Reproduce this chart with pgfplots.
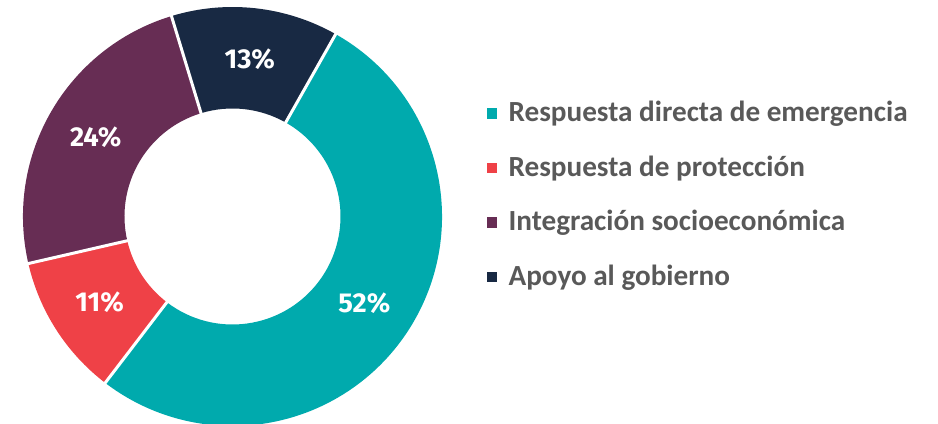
\documentclass[border=0pt]{standalone}
\usepackage{fontspec}
\setmainfont{Carlito}
\newfontfamily\pctfont{Fira Sans}
\usepackage{pgfplots}
\pgfplotsset{compat=1.18}
\usepackage{pgfplotstable}
\definecolor{cTeal}{RGB}{0,170,173}
\definecolor{cRed}{RGB}{239,65,71}
\definecolor{cPurple}{RGB}{103,45,84}
\definecolor{cNavy}{RGB}{24,41,67}
\definecolor{legtext}{RGB}{89,89,89}

\pgfplotstableread[col sep=comma]{
name,value,col
Respuesta directa de emergencia,52.2,cTeal
Respuesta de protección,11.0,cRed
Integración socioeconómica,23.9,cPurple
Apoyo al gobierno,12.9,cNavy
}\piedata

\def\cx{232.5}\def\cy{207.5}\def\Ro{209.5}\def\Ri{108}\def\Rl{158}

\def\cum{60.5}
\pgfplotsforeachungrouped \i in {0,1,2,3}{%
  \pgfplotstablegetelem{\i}{value}\of\piedata
  \let\v\pgfplotsretval
  \pgfmathsetmacro\b{\cum-3.6*\v}
  \pgfmathsetmacro\m{(\cum+\b)/2}
  \pgfmathtruncatemacro\p{round(\v)}
  \pgfmathsetmacro\xo{\cx+\Ro*cos(\cum)}
  \pgfmathsetmacro\yo{\cy+\Ro*sin(\cum)}
  \pgfmathsetmacro\xi{\cx+\Ri*cos(\b)}
  \pgfmathsetmacro\yi{\cy+\Ri*sin(\b)}
  \pgfmathsetmacro\lx{\cx+\Rl*cos(\m)}
  \pgfmathsetmacro\ly{\cy+\Rl*sin(\m)}
  \pgfmathsetmacro\sxa{\cx+100*cos(\cum)}
  \pgfmathsetmacro\sya{\cy+100*sin(\cum)}
  \pgfmathsetmacro\sxb{\cx+216*cos(\cum)}
  \pgfmathsetmacro\syb{\cy+216*sin(\cum)}
  \expandafter\xdef\csname sA\i\endcsname{\cum}
  \expandafter\xdef\csname sB\i\endcsname{\b}
  \expandafter\xdef\csname sP\i\endcsname{\p}
  \expandafter\xdef\csname xo\i\endcsname{\xo}
  \expandafter\xdef\csname yo\i\endcsname{\yo}
  \expandafter\xdef\csname xi\i\endcsname{\xi}
  \expandafter\xdef\csname yi\i\endcsname{\yi}
  \expandafter\xdef\csname lx\i\endcsname{\lx}
  \expandafter\xdef\csname ly\i\endcsname{\ly}
  \expandafter\xdef\csname sxa\i\endcsname{\sxa}
  \expandafter\xdef\csname sya\i\endcsname{\sya}
  \expandafter\xdef\csname sxb\i\endcsname{\sxb}
  \expandafter\xdef\csname syb\i\endcsname{\syb}
  \pgfplotstablegetelem{\i}{col}\of\piedata
  \colorlet{slice\i}{\pgfplotsretval}
  \pgfplotstablegetelem{\i}{name}\of\piedata
  \expandafter\xdef\csname sN\i\endcsname{\pgfplotsretval}
  \xdef\cum{\b}%
}

\begin{document}
\begin{tikzpicture}
\path[use as bounding box] (0,0) rectangle (703.5pt,318pt);
\begin{axis}[scale only axis, width=703.5pt, height=318pt,
  xmin=0, xmax=938, ymin=0, ymax=424, hide axis, clip=true,
  anchor=south west, at={(0,0)}]
\pgfplotsinvokeforeach{0,1,2,3}{%
  \edef\tmp{\noexpand\fill[slice#1] (axis cs:\csname xo#1\endcsname,\csname yo#1\endcsname)
     arc[start angle=\csname sA#1\endcsname, end angle=\csname sB#1\endcsname, radius=157.125pt]
     -- (axis cs:\csname xi#1\endcsname,\csname yi#1\endcsname)
     arc[start angle=\csname sB#1\endcsname, end angle=\csname sA#1\endcsname, radius=81pt] -- cycle;}%
  \tmp
}
\pgfplotsinvokeforeach{0,1,2,3}{%
  \edef\tmp{\noexpand\draw[white, line width=2.25pt]
    (axis cs:\csname sxa#1\endcsname,\csname sya#1\endcsname) --
    (axis cs:\csname sxb#1\endcsname,\csname syb#1\endcsname);}%
  \tmp
}
\pgfplotsinvokeforeach{0,1,2,3}{%
  \node[text=white, inner sep=0pt, font=\pctfont\bfseries\fontsize{20.5}{24}\selectfont]
    at (axis cs:\csname lx#1\endcsname,\csname ly#1\endcsname) {\csname sP#1\endcsname\%};
  \fill[slice#1] (axis cs:486.7,{302.3-54.6*#1+3}) rectangle (axis cs:497.4,{302.3-54.6*#1+13.7});
  \node[anchor=base west, inner sep=0pt, text=legtext, font=\bfseries\fontsize{21.9}{26}\selectfont]
    at (axis cs:508.3,{302.3-54.6*#1}) {\csname sN#1\endcsname};
}
\end{axis}
\end{tikzpicture}
\end{document}
